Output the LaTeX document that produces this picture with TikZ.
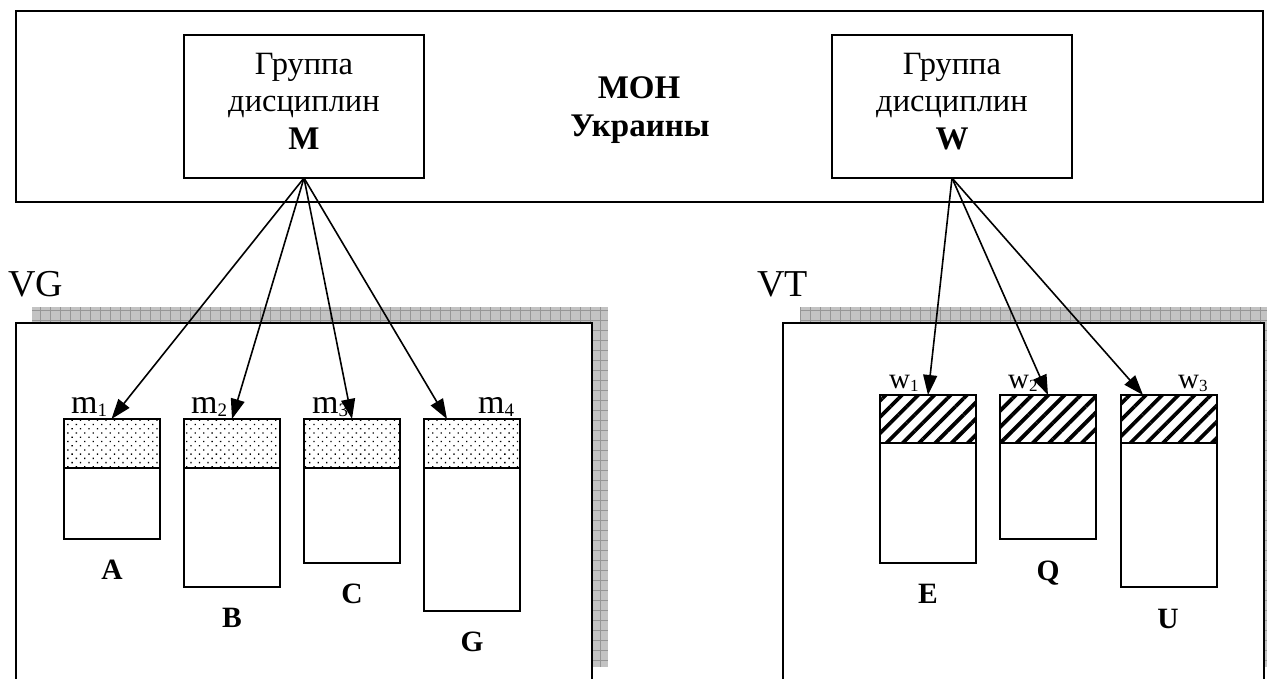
\documentclass[tikz,border=0pt]{standalone}
\usepackage{fontspec}
\setmainfont{Liberation Serif}
\usetikzlibrary{arrows.meta,patterns.meta}
\newcommand{\fs}[1]{\fontsize{#1}{#1}\selectfont}
\newcommand{\mysub}[2]{\raisebox{-3pt}{\fs{#1}#2}}
\definecolor{shadowgray}{RGB}{195,195,195}
\definecolor{gridgray}{RGB}{150,150,150}
\begin{document}
\begin{tikzpicture}[x=1pt,y=-1pt,
  box/.style={draw=black, line width=2pt, fill=white, inner sep=0pt, outer sep=0pt},
  dotbox/.style={draw=black, line width=2pt, inner sep=0pt, outer sep=0pt,
     pattern={Dots[angle=45,distance=6pt,radius=0.9pt]}, minimum width=96pt},
  linebox/.style={draw=black, line width=2pt, inner sep=0pt, outer sep=0pt,
     pattern={Lines[angle=45,distance=11.5pt,line width=3.8pt]}, minimum width=96pt},
  lowbox/.style={box, minimum width=96pt},
  txt/.style={anchor=base, font=\fs{32.5}, inner sep=0pt},
  btxt/.style={anchor=base, font=\fs{33}\bfseries, inner sep=0pt},
  lab/.style={anchor=base, font=\fs{29.5}\bfseries, inner sep=0pt},
  mlab/.style={anchor=base west, font=\fs{34}, inner sep=0pt},
  wlab/.style={anchor=base west, font=\fs{29}, inner sep=0pt},
  vlab/.style={anchor=base west, font=\fs{38}, inner sep=0pt},
  arr/.style={line width=1.6pt, -{Triangle[length=20pt,width=14pt]}},
  shade/.style={fill=shadowgray},
  gridline/.style={draw=gridgray, line width=0.7pt}
]
\useasboundingbox (0,0) rectangle (1267,679);
\clip (0,0) rectangle (1267,679);

% top box
\node[box, minimum width=1247pt, minimum height=191pt] (mon) at (639.5,106.5) {};
\node[box, minimum width=240pt, minimum height=143pt] (M) at (304,106.5) {};
\node[box, minimum width=240pt, minimum height=143pt] (W) at (952,106.5) {};
\node[txt] (Mt1) at (304,75) {Группа};
\node[txt] (Mt2) at (304,112) {дисциплин};
\node[btxt] (Mt3) at (304,150) {M};
\node[txt] (Wt1) at (952,75) {Группа};
\node[txt] (Wt2) at (952,112) {дисциплин};
\node[btxt] (Wt3) at (952,150) {W};
\node[btxt] (mon1) at (639,99) {МОН};
\node[btxt] (mon2) at (640,137) {Украины};

% VG area
\fill[shade] (32,307) rectangle (608,667);
\draw[gridline] (32,307) grid[step=10pt] (608,667);
\node[box, minimum width=576pt, minimum height=372pt] (VGbox) at (304,509) {};
\node[vlab] (vg) at (8,297) {VG};

% VT area
\fill[shade] (800,307) rectangle (1281,667);
\draw[gridline] (800,307) grid[step=10pt] (1281,667);
\node[box, minimum width=481pt, minimum height=372pt] (VTbox) at (1023.5,509) {};
\node[vlab] (vt) at (757,297) {VT};

% small boxes VG
\node[lowbox, minimum height=71pt] (lA) at (111.5,503.5) {};
\node[dotbox, minimum height=49pt] (hA) at (111.5,443.5) {};
\node[lowbox, minimum height=119pt] (lB) at (232,527.5) {};
\node[dotbox, minimum height=49pt] (hB) at (232,443.5) {};
\node[lowbox, minimum height=95pt] (lC) at (352,515.5) {};
\node[dotbox, minimum height=49pt] (hC) at (352,443.5) {};
\node[lowbox, minimum height=143pt] (lG) at (472,539.5) {};
\node[dotbox, minimum height=49pt] (hG) at (472,443.5) {};

\node[lab] (A) at (112,579) {A};
\node[lab] (B) at (232,627) {B};
\node[lab] (C) at (352,603) {C};
\node[lab] (G) at (472,651) {G};

\node[mlab] (m1) at (71,413) {m\mysub{19}{1}};
\node[mlab] (m2) at (191,413) {m\mysub{19}{2}};
\node[mlab] (m3) at (312,413) {m\mysub{19}{3}};
\node[mlab] (m4) at (478,413) {m\mysub{19}{4}};

% small boxes VT
\node[lowbox, minimum height=120pt] (lE) at (928,503) {};
\node[linebox, minimum height=48pt] (hE) at (928,419) {};
\node[lowbox, minimum height=96pt] (lQ) at (1048,491) {};
\node[linebox, minimum height=48pt] (hQ) at (1048,419) {};
\node[lowbox, minimum height=144pt] (lU) at (1168.5,515) {};
\node[linebox, minimum height=48pt] (hU) at (1168.5,419) {};

\node[lab] (E) at (928,603) {E};
\node[lab] (Q) at (1048,580) {Q};
\node[lab] (U) at (1168,628) {U};

\node[wlab] (w1) at (889,388) {w\mysub{17}{1}};
\node[wlab] (w2) at (1008,388) {w\mysub{17}{2}};
\node[wlab] (w3) at (1178,388) {w\mysub{17}{3}};

% arrows
\coordinate (t4) at (447,419);
\coordinate (t7) at (1143,395);
\draw[arr] (M.south) -- (hA.north);
\draw[arr] (M.south) -- (hB.north);
\draw[arr] (M.south) -- (hC.north);
\draw[arr] (M.south) -- (t4);
\draw[arr] (W.south) -- (hE.north);
\draw[arr] (W.south) -- (hQ.north);
\draw[arr] (W.south) -- (t7);
\end{tikzpicture}
\end{document}
